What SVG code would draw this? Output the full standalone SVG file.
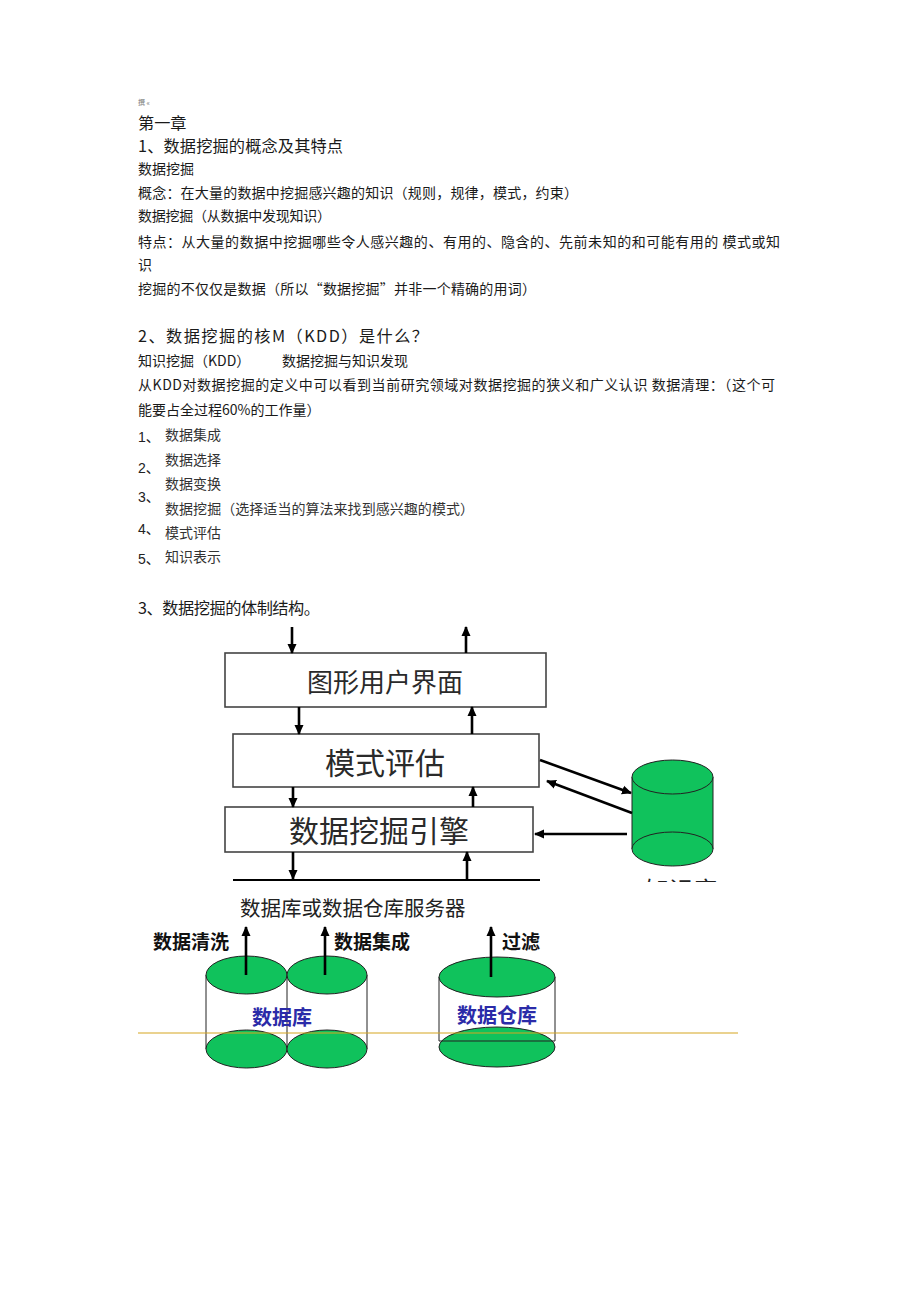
<svg xmlns="http://www.w3.org/2000/svg" width="920" height="1302" viewBox="0 0 920 1302">
<style>
.t{font-family:"Noto Sans CJK SC","Liberation Sans",sans-serif;fill:#1a1a1a;font-size:14px}
.h{font-size:16.2px}
.n{font-family:"Liberation Sans","Noto Sans CJK SC",sans-serif;fill:#222;font-size:14px}
.box{fill:#fff;stroke:#444;stroke-width:1.6}
.bt{font-family:"Noto Sans CJK SC",sans-serif;fill:#2a2a2a;text-anchor:middle}
.ar{stroke:#000;stroke-width:2.6;fill:none;marker-end:url(#ah)}
.gr{fill:#10c25c;stroke:#222;stroke-width:1}
.ln{stroke:#222;stroke-width:1;fill:none}
.lb{font-family:"Noto Sans CJK SC",sans-serif;font-weight:bold;font-size:19px;fill:#111}
.bl{font-family:"Noto Sans CJK SC",sans-serif;font-weight:bold;font-size:20px;fill:#2b2ba8;text-anchor:middle}
</style>
<defs>
<marker id="ah" markerUnits="userSpaceOnUse" markerWidth="10" markerHeight="10" refX="9" refY="5" orient="auto"><path d="M0,0.5 L10,5 L0,9.5 z" fill="#000"/></marker>
<clipPath id="cl"><rect x="600" y="870" width="150" height="12"/></clipPath>
</defs>
<rect width="920" height="1302" fill="#fff"/>
<g id="text">
<text class="t" x="138" y="105" style="font-size:7px;fill:#777">撰 «</text>
<text class="t h" x="138" y="129">第一章</text>
<text class="t h" x="138" y="152" textLength="205" lengthAdjust="spacing">1、数据挖掘的概念及其特点</text>
<text class="t" x="138" y="174">数据挖掘</text>
<text class="t" x="138" y="198" textLength="440" lengthAdjust="spacing">概念：在大量的数据中挖掘感兴趣的知识（规则，规律，模式，约束）</text>
<text class="t" x="138" y="221" textLength="193" lengthAdjust="spacing">数据挖掘（从数据中发现知识）</text>
<text class="t" x="138" y="247" textLength="642" lengthAdjust="spacing">特点：从大量的数据中挖掘哪些令人感兴趣的、有用的、隐含的、先前未知的和可能有用的 模式或知</text>
<text class="t" x="138" y="270">识</text>
<text class="t" x="138" y="294" textLength="398" lengthAdjust="spacing">挖掘的不仅仅是数据（所以“数据挖掘”并非一个精确的用词）</text>
<text class="t h" x="138" y="342" textLength="290" lengthAdjust="spacing">2、数据挖掘的核M（KDD）是什么？</text>
<text class="t" x="138" y="366">知识挖掘（KDD）</text>
<text class="t" x="282" y="366">数据挖掘与知识发现</text>
<text class="t" x="138" y="390" textLength="637" lengthAdjust="spacing">从KDD对数据挖掘的定义中可以看到当前研究领域对数据挖掘的狭义和广义认识 数据清理：（这个可</text>
<text class="t" x="138" y="415">能要占全过程60%的工作量）</text>
<text class="n" x="138" y="442">1、</text>
<text class="t" x="165" y="440" style="fill:#333">数据集成</text>
<text class="t" x="165" y="465" style="fill:#333">数据选择</text>
<text class="n" x="138" y="473">2、</text>
<text class="t" x="165" y="489" style="fill:#333">数据变换</text>
<text class="n" x="138" y="502">3、</text>
<text class="t" x="165" y="514" style="fill:#333" textLength="309" lengthAdjust="spacing">数据挖掘（选择适当的算法来找到感兴趣的模式）</text>
<text class="n" x="138" y="534">4、</text>
<text class="t" x="165" y="538" style="fill:#333">模式评估</text>
<text class="n" x="138" y="564">5、</text>
<text class="t" x="165" y="562" style="fill:#333">知识表示</text>
<text class="t h" x="138" y="614" textLength="182" lengthAdjust="spacing">3、数据挖掘的体制结构。</text>
</g>
<g id="node-gui">
<rect class="box" x="225" y="653" width="321" height="54"/>
<text class="bt" x="385" y="692" font-size="26">图形用户界面</text>
</g>
<g id="node-eval">
<rect class="box" x="233" y="734" width="306" height="53"/>
<text class="bt" x="385" y="774" font-size="30">模式评估</text>
</g>
<g id="node-engine">
<rect class="box" x="225" y="807" width="308" height="45"/>
<text class="bt" x="379" y="842" font-size="30">数据挖掘引擎</text>
</g>
<g id="node-kb">
<rect x="632" y="777" width="81" height="72" fill="#10c25c"/>
<line class="ln" x1="632" y1="777" x2="632" y2="849"/>
<line class="ln" x1="713" y1="777" x2="713" y2="849"/>
<ellipse class="gr" cx="672.5" cy="849" rx="40.5" ry="17"/>
<ellipse class="gr" cx="672.5" cy="777" rx="40.5" ry="17"/>
<text x="645" y="899" font-family="Noto Sans CJK SC,sans-serif" font-size="24" fill="#222" clip-path="url(#cl)">知识库</text>
</g>
<g id="node-server">
<text x="240" y="916" font-family="Noto Sans CJK SC,sans-serif" font-size="20.5" fill="#222">数据库或数据仓库服务器</text>
</g>
<g id="node-db">
<line class="ln" x1="206" y1="975" x2="206" y2="1049"/>
<line class="ln" x1="287" y1="975" x2="287" y2="1049"/>
<line class="ln" x1="367" y1="975" x2="367" y2="1049"/>
<ellipse class="gr" cx="246.5" cy="1049" rx="40.5" ry="19"/>
<ellipse class="gr" cx="327" cy="1049" rx="40" ry="19"/>
<ellipse class="gr" cx="246.5" cy="975" rx="40.5" ry="19"/>
<ellipse class="gr" cx="327" cy="975" rx="40" ry="19"/>
<text class="bl" x="282" y="1025">数据库</text>
</g>
<g id="node-dw">
<ellipse class="gr" cx="497" cy="1047" rx="58" ry="20"/>
<path class="ln" d="M439,977 V1041 H555 V977"/>
<ellipse class="gr" cx="497" cy="977" rx="58" ry="20"/>
<text class="bl" x="497" y="1023">数据仓库</text>
</g>
<g id="labels">
<text class="lb" x="153" y="949">数据清洗</text>
<text class="lb" x="334" y="949">数据集成</text>
<text class="lb" x="502" y="949">过滤</text>
</g>
<g id="connectors">
<line class="ar" x1="292" y1="627" x2="292" y2="653"/>
<line class="ar" x1="466" y1="653" x2="466" y2="627"/>
<line class="ar" x1="299" y1="707" x2="299" y2="734"/>
<line class="ar" x1="472" y1="734" x2="472" y2="707"/>
<line class="ar" x1="293" y1="787" x2="293" y2="807"/>
<line class="ar" x1="473" y1="807" x2="473" y2="787"/>
<line class="ar" x1="293" y1="852" x2="293" y2="879"/>
<line class="ar" x1="467" y1="880" x2="467" y2="852"/>
<line stroke="#000" stroke-width="2" x1="233" y1="880" x2="540" y2="880"/>
<line class="ar" x1="540" y1="760" x2="631" y2="793"/>
<line class="ar" x1="632" y1="813" x2="547" y2="781"/>
<line class="ar" x1="627" y1="834" x2="535" y2="834"/>
<line class="ar" x1="246" y1="975" x2="246" y2="927"/>
<line class="ar" x1="325" y1="975" x2="325" y2="927"/>
<line class="ar" x1="491" y1="977" x2="491" y2="927"/>
</g>
<line x1="138" y1="1033" x2="738" y2="1033" stroke="#d6a520" stroke-width="1.2"/>
</svg>
